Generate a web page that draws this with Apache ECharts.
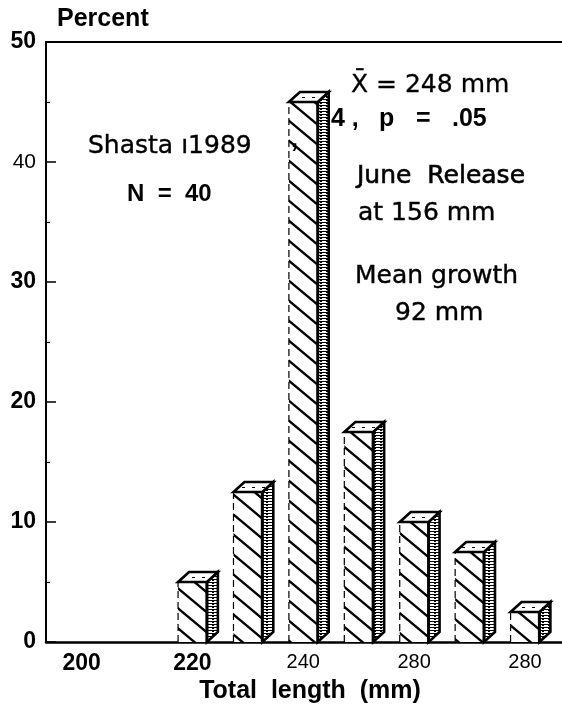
<!DOCTYPE html>
<html><head><meta charset="utf-8">
<script src="https://cdn.jsdelivr.net/npm/echarts@6/dist/echarts.min.js"></script>
<style>html,body{margin:0;padding:0;background:#fff}#c{width:562px;height:714px}</style>
</head><body><div id="c"></div>
<script>
// ---- data ----
const lengthBins = [220, 230, 240, 250, 260, 270, 280];
const percentValues = [5, 12.5, 45, 17.5, 10, 7.5, 2.5];
const xTickValues = [200, 220, 240, 260, 280];
const xTickLabels = ['200', '220', '240', '280', '280'];
const yTickValues = [0, 10, 20, 30, 40, 50];
const yTickLabels = ['0', '10', '20', '30', '40', '50'];
const yRegularLabels = ['40'];

const FONT = '"Liberation Sans", Arial, Helvetica, sans-serif';
const WIDE = '"DejaVu Sans", Verdana, sans-serif';

function makeCanvas(w, h, draw) {
  const c = document.createElement('canvas');
  c.width = w; c.height = h;
  const g = c.getContext('2d');
  draw(g, w, h);
  return c;
}
const hatch = makeCanvas(24, 20, (g, w, h) => {
  g.fillStyle = '#fff'; g.fillRect(0, 0, w, h);
  g.strokeStyle = '#000'; g.lineWidth = 2.4;
  g.beginPath();
  for (let k = -1; k <= 1; k++) {
    g.moveTo(-w + k * w, -h); g.lineTo(2 * w + k * w, 2 * h);
  }
  g.stroke();
});
const sideTex = makeCanvas(6, 3, (g, w, h) => {
  g.fillStyle = '#fff'; g.fillRect(0, 0, w, h);
  g.fillStyle = '#000'; g.fillRect(0, 0, 6, 1); g.fillRect(2, 1, 2, 1);
});
const topTex = makeCanvas(10, 5, (g, w, h) => {
  g.fillStyle = '#fff'; g.fillRect(0, 0, w, h);
  g.fillStyle = '#000'; g.fillRect(2, 2, 3, 1);
});

const BAR_HALF_MM = 2.6;
const DX = 11, DY = 10;

function renderBar(params, api) {
  const x = api.value(0), v = api.value(1);
  const top = api.coord([x, v]);
  const base = api.coord([x, 0]);
  const hw = api.size([BAR_HALF_MM, 0])[0];
  const L = top[0] - hw, R = top[0] + hw, T = top[1], B = base[1];
  return {
    type: 'group',
    children: [
      { type: 'polygon', shape: { points: [[R, T], [R + DX, T - DY], [R + DX, B - DY], [R, B]] },
        style: { fill: { image: sideTex, repeat: 'repeat' }, stroke: '#000', lineWidth: 2.6 } },
      { type: 'rect', shape: { x: L, y: T, width: R - L, height: B - T },
        style: { fill: { image: hatch, repeat: 'repeat' }, stroke: null } },
      { type: 'polyline', shape: { points: [[L, B], [L, T]] },
        style: { stroke: '#000', lineWidth: 1.2, lineDash: [7, 4], fill: null } },
      { type: 'polyline', shape: { points: [[R, T], [R, B]] },
        style: { stroke: '#000', lineWidth: 3, fill: null } },
      { type: 'polygon', shape: { points: [[L, T], [L + DX, T - DY], [R + DX, T - DY], [R, T]] },
        style: { fill: { image: topTex, repeat: 'repeat' }, stroke: '#000', lineWidth: 2.6 } }
    ]
  };
}

function txt(text, x, y, size, weight, family, opts) {
  opts = opts || {};
  return {
    type: 'text', x: x, y: y, z: 100,
    style: Object.assign({
      text: text, font: weight + ' ' + size + 'px ' + family, fill: '#000',
      textAlign: opts.align || 'left', textVerticalAlign: 'middle',
      align: opts.align || 'left', verticalAlign: 'middle'
    }, opts.stroke ? { stroke: '#000', lineWidth: opts.stroke } : {})
  };
}

const chart = echarts.init(document.getElementById('c'), null, { renderer: 'canvas' });
chart.setOption({
  backgroundColor: '#fff',
  animation: false,
  grid: { left: 46, right: 0, top: 42, bottom: 72 },
  xAxis: [
    {
      type: 'value', min: 193.57, max: 286.68, position: 'bottom',
      axisLine: { show: true, lineStyle: { color: '#000', width: 2.5 } },
      axisTick: { show: false },
      splitLine: { show: false },
      axisLabel: {
        customValues: xTickValues, margin: 10,
        formatter: function (v) {
          const i = xTickValues.indexOf(v);
          return i < 2 ? '{b|' + xTickLabels[i] + '}' : '{r|' + xTickLabels[i] + '}';
        },
        rich: {
          b: { fontFamily: FONT, fontWeight: 'bold', fontSize: 23, color: '#000' },
          r: { fontFamily: FONT, fontWeight: 'normal', fontSize: 20, color: '#000' }
        }
      }
    },
    {
      type: 'value', min: 193.57, max: 286.68, position: 'top',
      axisLine: { show: true, onZero: false, lineStyle: { color: '#000', width: 2 } },
      axisTick: { show: false }, axisLabel: { show: false }, splitLine: { show: false }
    }
  ],
  yAxis: {
    type: 'value', min: 0, max: 50, interval: 10,
    axisLine: { show: true, lineStyle: { color: '#000', width: 2 } },
    axisTick: { show: true, inside: true, length: 10, lineStyle: { color: '#000', width: 1.5 } },
    minorTick: { show: true, splitNumber: 2, length: 4, lineStyle: { color: '#000', width: 1.2 } },
    splitLine: { show: false },
    axisLabel: {
      margin: 10,
      formatter: function (v) {
        const s = yTickLabels[yTickValues.indexOf(v)];
        return yRegularLabels.indexOf(s) >= 0 ? '{r|' + s + '}' : '{b|' + s + '}';
      },
      rich: {
        b: { fontFamily: FONT, fontWeight: 'bold', fontSize: 23, color: '#000' },
        r: { fontFamily: FONT, fontWeight: 'normal', fontSize: 21, color: '#000' }
      }
    }
  },
  series: [{
    type: 'custom',
    xAxisIndex: 0,
    renderItem: renderBar,
    clip: false,
    data: lengthBins.map((x, i) => [x, percentValues[i]]),
    z: 5
  }],
  graphic: [
    txt('Percent', 57, 19, 25, 'bold', FONT),
    txt('X\u0304 = 248 mm', 351, 85, 25, 'normal', WIDE, { stroke: 0.3 }),
    txt('4 ,', 331, 119, 25, 'bold', FONT),
    txt('p', 379, 119, 25, 'bold', FONT),
    txt('=', 416, 119, 25, 'bold', FONT),
    txt('.05', 452, 119, 25, 'bold', FONT),
    txt(',', 291, 140, 25, 'bold', FONT),
    txt('Shasta \u01311989', 88, 146, 25, 'normal', WIDE, { stroke: 0.4 }),
    txt('N  =  40', 127, 194, 24, 'bold', FONT),
    txt('June  Release', 357, 176, 25, 'normal', WIDE, { stroke: 0.6 }),
    txt('at 156 mm', 358, 213, 25, 'normal', WIDE, { stroke: 0.4 }),
    txt('Mean growth', 355, 276, 25, 'normal', WIDE, { stroke: 0.4 }),
    txt('92 mm', 395, 313, 25, 'normal', WIDE, { stroke: 0.4 }),
    txt('Total  length  (mm)', 310, 691, 25, 'bold', FONT, { align: 'center' })
  ]
});
</script>
</body></html>
